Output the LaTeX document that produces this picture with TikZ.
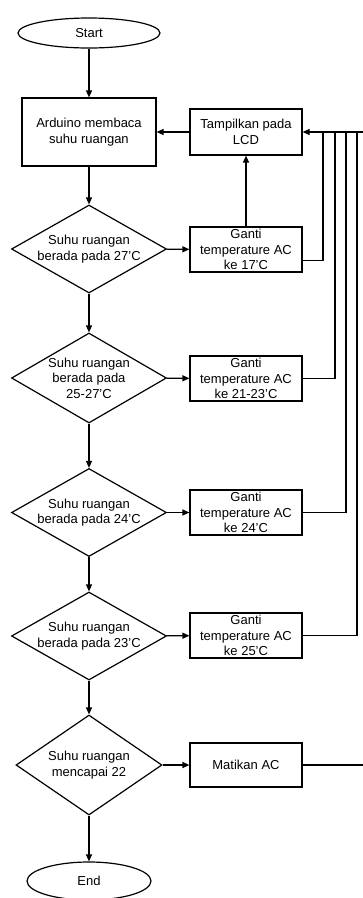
\documentclass[tikz,border=0pt]{standalone}
\usepackage{fontspec}
\setmainfont{Liberation Sans}
\usetikzlibrary{shapes.geometric,arrows.meta}

\begin{document}
\begin{tikzpicture}[x=1pt,y=-1pt,line width=1.2pt,
        font=\fontsize{13}{15.5}\selectfont,
        term/.style={ellipse,draw=black,inner sep=0pt},
        box/.style={rectangle,draw=black,align=center,inner sep=0pt,minimum width=112pt,minimum height=45pt},
        cond/.style={diamond,draw=black,align=center,inner sep=0pt,shape aspect=1.76,minimum width=155pt,minimum height=88pt},
        arr/.style={-{Triangle[length=7pt,width=6pt]}}]
        \useasboundingbox (0,0) rectangle (363,898);
        \node[term,minimum width=142pt,minimum height=30pt] (start) at (89,33) {Start};
        \node[box,minimum width=134pt,minimum height=68pt] (baca) at (89,132) {Arduino membaca\\suhu ruangan};
        \node[box,minimum height=46pt] (lcd) at (246,132) {Tampilkan pada\\LCD};
        \node[cond] (c27) at (89,249) {Suhu ruangan\\berada pada 27'C};
        \node[box] (g17) at (246,249.5) {Ganti\\temperature AC\\ke 17'C};
        \node[cond,minimum height=90pt] (c2527) at (89,378) {Suhu ruangan\\berada pada\\25-27'C};
        \node[box] (g2123) at (246,378.5) {Ganti\\temperature AC\\ke 21-23'C};
        \node[cond] (c24) at (89,512.5) {Suhu ruangan\\berada pada 24'C};
        \node[box] (g24) at (246,512.5) {Ganti\\temperature AC\\ke 24'C};
        \node[cond] (c23) at (89,636) {Suhu ruangan\\berada pada 23'C};
        \node[box] (g25) at (246,635.5) {Ganti\\temperature AC\\ke 25'C};
        \node[cond,shape aspect=1.46,minimum width=146pt,minimum height=100pt] (c22) at (89,765) {Suhu ruangan\\mencapai 22};
        \node[box,minimum height=44pt] (mati) at (246,765) {Matikan AC};
        \node[term,minimum width=124pt,minimum height=38pt] (end) at (89,881) {End};
        % titik sambungan jalur balik
        \coordinate (j1) at (323,132);
        \coordinate (j2) at (335,132);
        \coordinate (j3) at (346,132);
        \coordinate (j4) at (357,132);
        \coordinate (rt) at (363,132);
        \coordinate (rb) at (363,765);
        % alur utama
        \draw[arr] (start) -- (baca);
        \draw[arr] (baca) -- (c27);
        \draw[arr] (c27) -- (c2527);
        \draw[arr] (c2527) -- (c24);
        \draw[arr] (c24) -- (c23);
        \draw[arr] (c23) -- (c22);
        \draw[arr] (c22) -- (end);
        \draw[arr] (c27) -- (g17);
        \draw[arr] (c2527) -- (g2123);
        \draw[arr] (c24) -- (g24);
        \draw[arr] (c23) -- (g25);
        \draw[arr] (c22) -- (mati);
        \draw[arr] (g17) -- (lcd);
        \draw[arr] (lcd) -- (baca);
        % jalur balik ke LCD
        \draw ([yshift=-11pt]g17.east) -| (j1);
        \draw (g2123.east) -| (j2);
        \draw (g24.east) -| (j3);
        \draw (g25.east) -| (j4);
        \draw (mati.east) -- (rb);
        \draw[arr] (rt) -- (lcd.east);
\end{tikzpicture}
\end{document}
